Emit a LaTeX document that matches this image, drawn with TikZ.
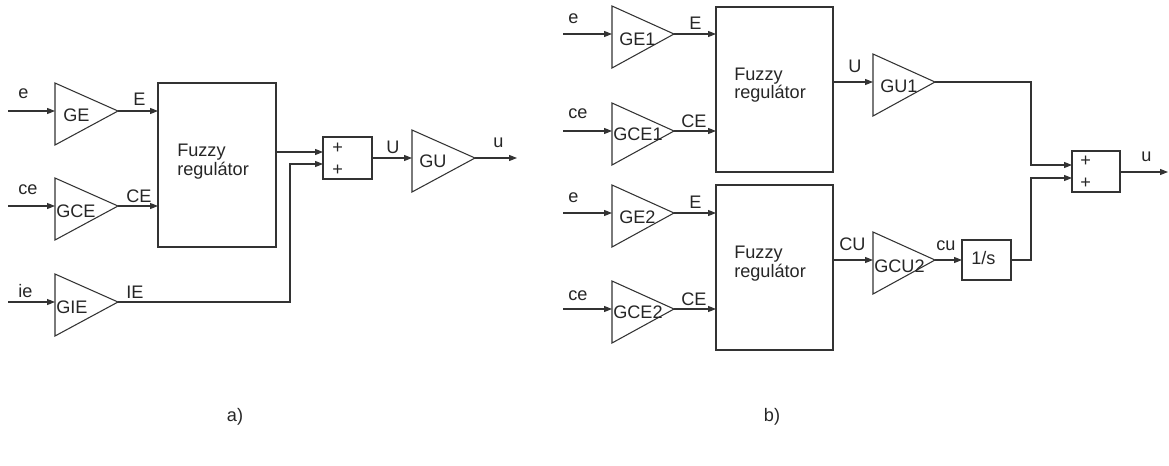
\documentclass[tikz,border=0pt]{standalone}
\usepackage{fontspec}
\setmainfont{Liberation Sans}
\usetikzlibrary{arrows.meta,fit}
\newcommand{\gainblock}[4]{%
  \coordinate (#1-in) at (#2,#3);
  \coordinate (#1-out) at ({#2+#4},#3);
  \draw[ln] (#2,{#3-28}) -- (#1-out) -- (#2,{#3+34}) -- cycle;}
\tikzset{
  ln/.style={line width=0.8pt, draw=black!80, line join=miter},
  arr/.style={ln, -{Triangle[length=6pt,width=4.5pt]}},
  lbl/.style={anchor=base west, inner sep=0, font=\fontsize{13.6}{16}\selectfont, text=black!85},
  blk/.style={ln, inner sep=0, fill=none},
}
\begin{document}
\begin{tikzpicture}[x=0.75pt,y=-0.75pt]
\useasboundingbox (0,0) rectangle (1169,465);
% ---------------- part a ----------------
\gainblock{ge}{55}{111}{63}
\gainblock{gce}{55}{206}{63}
\gainblock{gie}{55}{302}{63}
\gainblock{gu}{412}{158}{63}
\node[blk, draw, fit={(158,83)(276,247)}] (fz) {};
\node[blk, draw, fit={(323,137)(372,179)}] (sa) {};
\coordinate (ein) at (8,111);
\coordinate (cein) at (8,206);
\coordinate (iein) at (8,302);
\coordinate (fzE) at (158,111);
\coordinate (fzCE) at (158,206);
\coordinate (fzout) at (276,152);
\coordinate (sa1) at (323,152);
\coordinate (sa2) at (323,164);
\coordinate (saout) at (372,158);
\coordinate (uout) at (517,158);
\draw[arr] (ein) -- (ge-in);
\draw[arr] (cein) -- (gce-in);
\draw[arr] (iein) -- (gie-in);
\draw[arr] (ge-out) -- (fzE);
\draw[arr] (gce-out) -- (fzCE);
\draw[arr] (fzout) -- (sa1);
\draw[arr] (gie-out) -| (290,164) -- (sa2);
\draw[arr] (saout) -- (gu-in);
\draw[arr] (gu-out) -- (uout);
\node[lbl] (la1) at (18,98) {e};
\node[lbl] (la2) at (133,105) {E};
\node[lbl] (la3) at (18,194) {ce};
\node[lbl] (la4) at (126,202) {CE};
\node[lbl] (la5) at (18,297) {ie};
\node[lbl] (la6) at (126,298) {IE};
\node[lbl] (la7) at (63,121) {GE};
\node[lbl] (la8) at (56,217) {GCE};
\node[lbl] (la9) at (56,313) {GIE};
\node[lbl] (la10) at (177,156) {Fuzzy};
\node[lbl] (la11) at (177,175) {regulátor};
\node[lbl] (la12) at (332,153) {+};
\node[lbl] (la13) at (332,175) {+};
\node[lbl] (la14) at (386,153) {U};
\node[lbl] (la15) at (419,167) {GU};
\node[lbl] (la16) at (493,147) {u};
\node[lbl, anchor=base] (capa) at (235,421) {a)};
% ---------------- part b ----------------
\gainblock{ge1}{612}{34}{62}
\gainblock{gce1}{612}{131}{62}
\gainblock{ge2}{612}{213}{62}
\gainblock{gce2}{612}{309}{62}
\gainblock{gu1}{873}{82}{62}
\gainblock{gcu2}{873}{260}{62}
\node[blk, draw, fit={(716,7)(833,172)}] (fz1) {};
\node[blk, draw, fit={(716,185)(833,350)}] (fz2) {};
\node[blk, draw, fit={(962,240)(1011,280)}] (integ) {};
\node[blk, draw, fit={(1072,151)(1120,192)}] (sb) {};
\coordinate (b-ein1) at (563,34);
\coordinate (b-cein1) at (563,131);
\coordinate (b-ein2) at (563,213);
\coordinate (b-cein2) at (563,309);
\coordinate (fz1E) at (716,34);
\coordinate (fz1CE) at (716,131);
\coordinate (fz2E) at (716,213);
\coordinate (fz2CE) at (716,309);
\coordinate (fz1out) at (833,82);
\coordinate (fz2out) at (833,260);
\coordinate (intin) at (962,260);
\coordinate (intout) at (1011,260);
\coordinate (sb1) at (1072,165);
\coordinate (sb2) at (1072,178);
\coordinate (sbout) at (1120,172);
\coordinate (ubout) at (1168,172);
\draw[arr] (b-ein1) -- (ge1-in);
\draw[arr] (b-cein1) -- (gce1-in);
\draw[arr] (b-ein2) -- (ge2-in);
\draw[arr] (b-cein2) -- (gce2-in);
\draw[arr] (ge1-out) -- (fz1E);
\draw[arr] (gce1-out) -- (fz1CE);
\draw[arr] (ge2-out) -- (fz2E);
\draw[arr] (gce2-out) -- (fz2CE);
\draw[arr] (fz1out) -- (gu1-in);
\draw[arr] (fz2out) -- (gcu2-in);
\draw[arr] (gcu2-out) -- (intin);
\draw[arr] (gu1-out) -| (1031,165) -- (sb1);
\draw[arr] (intout) -| (1031,178) -- (sb2);
\draw[arr] (sbout) -- (ubout);
\node[lbl] (lb1) at (568,23) {e};
\node[lbl] (lb2) at (689,29) {E};
\node[lbl] (lb3) at (619,45) {GE1};
\node[lbl] (lb4) at (568,118) {ce};
\node[lbl] (lb5) at (681,127) {CE};
\node[lbl] (lb6) at (613,140) {GCE1};
\node[lbl] (lb7) at (734,80) {Fuzzy};
\node[lbl] (lb8) at (734,98) {regulátor};
\node[lbl] (lb9) at (848,72) {U};
\node[lbl] (lb10) at (880,92) {GU1};
\node[lbl] (lb11) at (568,202) {e};
\node[lbl] (lb12) at (689,208) {E};
\node[lbl] (lb13) at (619,223) {GE2};
\node[lbl] (lb14) at (568,300) {ce};
\node[lbl] (lb15) at (681,305) {CE};
\node[lbl] (lb16) at (613,318) {GCE2};
\node[lbl] (lb17) at (734,258) {Fuzzy};
\node[lbl] (lb18) at (734,277) {regulátor};
\node[lbl] (lb19) at (839,250) {CU};
\node[lbl] (lb20) at (874,272) {GCU2};
\node[lbl] (lb21) at (936,250) {cu};
\node[lbl] (lb22) at (971,264) {1/s};
\node[lbl] (lb23) at (1080,166) {+};
\node[lbl] (lb24) at (1080,188) {+};
\node[lbl] (lb25) at (1141,161) {u};
\node[lbl, anchor=base] (capb) at (772,421) {b)};
\end{tikzpicture}
\end{document}
